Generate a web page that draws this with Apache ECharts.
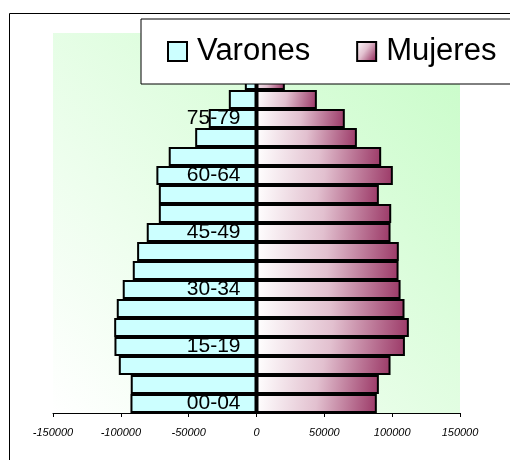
<!DOCTYPE html>
<html>
<head>
<meta charset="utf-8">
<script src="https://cdn.jsdelivr.net/npm/echarts@6/dist/echarts.min.js"></script>
<style>html,body{margin:0;padding:0;background:#fff;}#c{width:510px;height:460px;}</style>
</head>
<body>
<div id="c"></div>
<script>
var categories = ['00-04','05-09','10-14','15-19','20-24','25-29','30-34','35-39','40-44','45-49','50-54','55-59','60-64','65-69','70-74','75-79','80-84','85-89','90-94','95+'];
var varones = [92900, 92700, 101500, 104700, 104900, 103000, 98600, 91200, 88000, 80900, 72000, 72000, 73800, 64700, 45200, 35200, 20400, 8600, 3000, 600];
var mujeres = [88700, 90200, 98800, 109400, 112300, 109100, 106200, 104700, 104900, 98800, 99300, 90200, 100500, 91900, 74000, 65100, 44500, 20900, 9000, 2500];
var xTicks = {min: -150000, max: 150000, interval: 50000};

var chart = echarts.init(document.getElementById('c'), null, {renderer: 'canvas'});
var font = 'Liberation Sans, Arial, sans-serif';
chart.setOption({
  animation: false,
  graphic: [{
    type: 'rect', z: 0, silent: true,
    shape: {x: 9.5, y: 13.5, width: 700, height: 700},
    style: {fill: 'none', stroke: '#000', lineWidth: 1}
  }],
  legend: {
    orient: 'horizontal',
    left: 141, top: 19, width: 600,
    z: 30,
    padding: [17, 40, 17, 26],
    backgroundColor: '#fff',
    borderColor: '#000', borderWidth: 1,
    itemWidth: 19, itemHeight: 19, itemGap: 46,
    icon: 'rect',
    textStyle: {fontFamily: font, fontSize: 31, color: '#000', padding: [0, 0, 0, 5]},
    data: ['Varones', 'Mujeres']
  },
  grid: {
    left: 53, right: 50, top: 33, bottom: 47,
    outerBoundsMode: 'none', containLabel: false,
    show: true, borderWidth: 0,
    backgroundColor: new echarts.graphic.LinearGradient(0, 1, 1, 0, [
      {offset: 0, color: '#ffffff'},
      {offset: 1, color: '#c8fcc8'}
    ])
  },
  xAxis: {
    type: 'value',
    min: xTicks.min, max: xTicks.max, interval: xTicks.interval,
    axisLine: {show: true, lineStyle: {color: '#000', width: 1}},
    axisTick: {show: true, length: 4, lineStyle: {color: '#000'}},
    splitLine: {show: false},
    axisLabel: {fontFamily: font, fontSize: 11, fontStyle: 'italic', color: '#000', margin: 14,
      formatter: function (v) { return String(v); }}
  },
  yAxis: {
    type: 'category',
    data: categories,
    z: 10,
    offset: -203.5,
    axisLine: {show: true, onZero: false, lineStyle: {color: '#000', width: 2}},
    axisTick: {show: false},
    axisLabel: {interval: 2, fontFamily: font, fontSize: 21, color: '#000', margin: 16}
  },
  series: [{
    name: 'Varones', type: 'bar',
    barGap: '-100%', barCategoryGap: 0,
    data: varones.map(function (v) { return -v; }),
    itemStyle: {color: '#ccffff', borderColor: '#000', borderWidth: 2}
  }, {
    name: 'Mujeres', type: 'bar',
    barGap: '-100%', barCategoryGap: 0,
    data: mujeres,
    itemStyle: {
      color: new echarts.graphic.LinearGradient(0, 0, 1, 0.7, [
        {offset: 0, color: '#ffffff'},
        {offset: 0.5, color: '#e2c0cf'},
        {offset: 1, color: '#9c3a68'}
      ]),
      borderColor: '#000', borderWidth: 2
    }
  }]
});
</script>
</body>
</html>
